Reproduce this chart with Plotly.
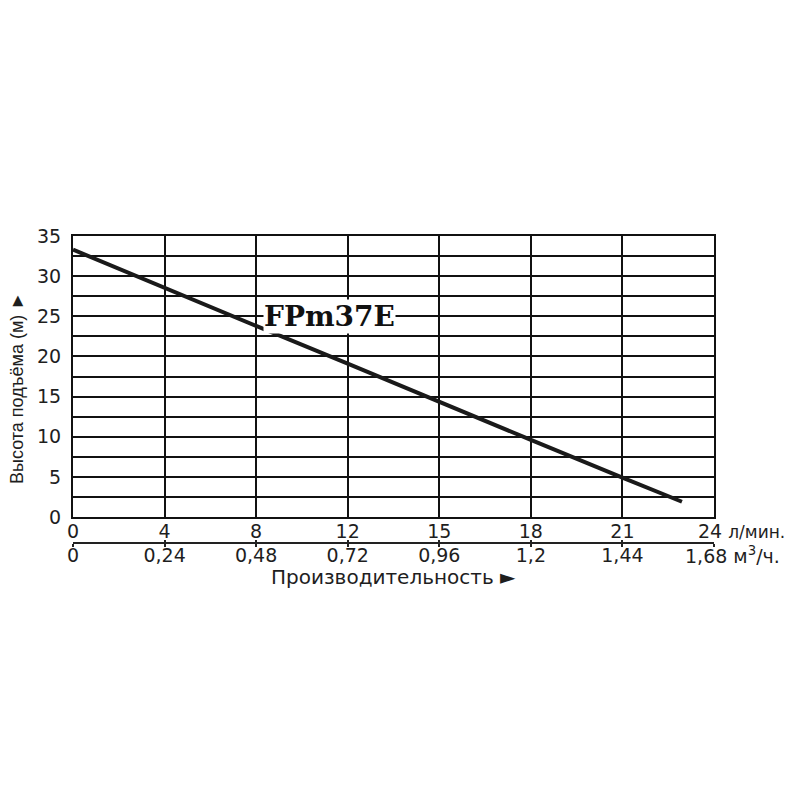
import numpy as np
import plotly.graph_objects as go

# ---- data ----
flow_ticks_lpm = [0, 4, 8, 12, 15, 18, 21, 24]            # л/мин. tick labels
flow_ticks_m3h = ["0", "0,24", "0,48", "0,72", "0,96", "1,2", "1,44", "1,68"]  # м³/ч.
head_ticks = [0, 5, 10, 15, 20, 25, 30, 35]

curve_flow_lpm = [0, 4, 8, 12, 15, 18, 21, 22.95]
curve_head_m = [33.3, 28.5, 23.8, 19.1, 14.3, 9.6, 4.9, 1.9]

model_label = "FPm37E"

# the flow axis is drawn with equally spaced ticks -> map to tick positions
tick_pos = list(range(len(flow_ticks_lpm)))
curve_pos = np.interp(curve_flow_lpm, flow_ticks_lpm, tick_pos)

fig = go.Figure()
fig.add_trace(go.Scatter(
    x=curve_pos, y=curve_head_m, mode="lines",
    line=dict(color="#1a1a1a", width=4), showlegend=False, hoverinfo="skip"))
# dummy traces so the secondary axes are drawn
fig.add_trace(go.Scatter(x=[0], y=[None], xaxis="x2", showlegend=False, hoverinfo="skip"))
fig.add_trace(go.Scatter(x=[0], y=[None], xaxis="x3", showlegend=False, hoverinfo="skip"))

tick_font = dict(family="DejaVu Sans", size=19, color="#1e1e1e")
ML, MR, MT, MB = 73, 86, 236, 200
H = 800
paper_h = H - MT - MB
def py(pix):
    return (H - MB - pix) / paper_h

# last labels are drawn together with their units as annotations
lpm_text = [str(v) for v in flow_ticks_lpm[:-1]] + [""]
m3h_text = flow_ticks_m3h[:-1] + [""]

fig.update_layout(
    width=800, height=800,
    margin=dict(l=ML, r=MR, t=MT, b=MB),
    paper_bgcolor="white", plot_bgcolor="white",
    xaxis=dict(range=[0, 7], tickvals=tick_pos, ticktext=lpm_text,
               showgrid=True, gridcolor="#111", gridwidth=2,
               showline=True, linecolor="#111", linewidth=2, mirror=True,
               ticks="", tickfont=tick_font, zeroline=False, ticklabelstandoff=-4),
    xaxis2=dict(range=[0, 7], overlaying="x", anchor="free", position=py(543),
                tickvals=tick_pos, ticktext=m3h_text,
                showgrid=False, showline=True, linecolor="#222", linewidth=2,
                ticks="outside", ticklen=3, tickwidth=2, tickcolor="#222",
                tickfont=tick_font, zeroline=False, ticklabelstandoff=-8),
    xaxis3=dict(range=[0, 7], overlaying="x", anchor="free", position=py(543),
                tickvals=tick_pos, showticklabels=False, showgrid=False, showline=False,
                ticks="inside", ticklen=3, tickwidth=2, tickcolor="#222", zeroline=False),
    yaxis=dict(range=[0, 35], domain=[py(517), 1], tickvals=head_ticks,
               showgrid=True, gridcolor="#111", gridwidth=2,
               minor=dict(dtick=2.5, showgrid=True, gridcolor="#111", gridwidth=2),
               showline=True, linecolor="#111", linewidth=2, mirror=True,
               ticks="", tickfont=tick_font, zeroline=False, ticklabelstandoff=6),
    annotations=[
        dict(text=model_label, x=2.8, y=25, xref="x", yref="y", showarrow=False,
             font=dict(family="DejaVu Serif", size=28, color="#111", weight="bold"),
             bgcolor="white", borderpad=0, xanchor="center", yanchor="middle"),
        dict(text=str(flow_ticks_lpm[-1]) + " <span style='font-size:17px'>л/мин.</span>",
             x=1, y=py(531), xref="paper", yref="paper", xshift=-18,
             showarrow=False, xanchor="left", yanchor="middle",
             font=dict(family="DejaVu Sans", size=19, color="#1e1e1e")),
        dict(text=flow_ticks_m3h[-1] + " м<sup>3</sup>/ч.", x=1, y=py(555),
             xref="paper", yref="paper", xshift=-31,
             showarrow=False, xanchor="left", yanchor="middle",
             font=dict(family="DejaVu Sans", size=19, color="#1e1e1e")),
        dict(text="Производительность ►", x=0.5, y=py(577), xref="paper", yref="paper",
             showarrow=False, xanchor="center", yanchor="middle",
             font=dict(family="DejaVu Sans", size=20, color="#1e1e1e")),
        dict(text="Высота подъёма (м) ►", x=(17 - ML) / (800 - ML - MR), y=py(388),
             xref="paper", yref="paper", showarrow=False, textangle=-90,
             xanchor="center", yanchor="middle",
             font=dict(family="Liberation Sans", size=18, color="#1e1e1e")),
    ],
)

fig.write_html("out.html", post_script="document.body.style.margin='0';",
               config={"displayModeBar": False})
